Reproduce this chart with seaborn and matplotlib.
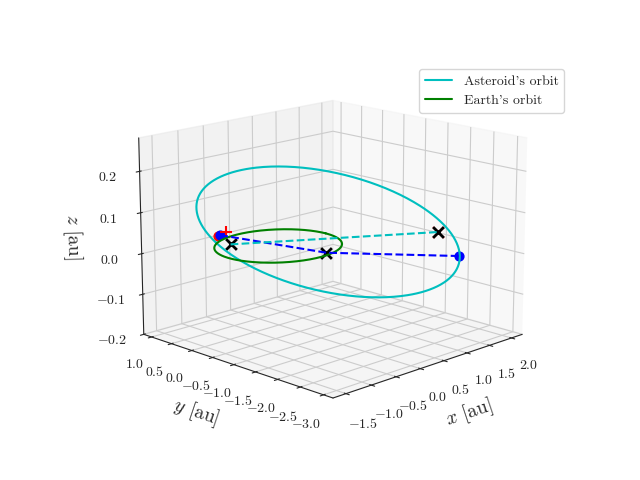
import numpy as np
import matplotlib
matplotlib.use("Agg")
import matplotlib.pyplot as plt
import seaborn as sns

sns.set_style("white")
plt.rcParams["mathtext.fontset"] = "cm"
plt.rcParams["font.family"] = "serif"
plt.rcParams["font.serif"] = ["cmr10", "DejaVu Serif"]
plt.rcParams["axes.formatter.use_mathtext"] = True

# Orbit geometry (au)
earth_radius = 1.0
ast_center = [0.2, -0.9, 0.05]
ast_axis_a = [-0.75, 1.77, -0.05]
ast_axis_b = [-0.74, 0.74, 0.16]

# Marker positions (x, y, z) in au
earth_red = [-0.5, 0.88, 0.015]
earth_pos = [-0.45, 0.88, 0.015]
earth_pos2 = [-0.62, 0.42, 0.01]
ast_pos_a = [-0.35, 0.85, 0.02]
ast_pos_b = [1.4, -2.15, 0.05]
mid_pos = [0.22, -0.88, 0.0]
ast_pos_c = [1.3, -2.7, 0.01]

theta = np.linspace(0, 2*np.pi, 400)
C, A, B = map(np.array, (ast_center, ast_axis_a, ast_axis_b))
ast = C[:, None] + A[:, None]*np.cos(theta) + B[:, None]*np.sin(theta)
earth = np.vstack([earth_radius*np.cos(theta), earth_radius*np.sin(theta), 0*theta])

fig = plt.figure(figsize=(6.4, 4.8), dpi=100)
ax = fig.add_subplot(projection="3d")
ax.computed_zorder = False
ax.view_init(elev=15, azim=-135)
ax.set_box_aspect(None, zoom=1.14)

ax.plot(*ast, color="c", label="Asteroid's orbit")
ax.plot(*earth, color="g", label="Earth's orbit")

ax.plot(*np.array([earth_pos, mid_pos, ast_pos_c]).T, "b--")
ax.plot(*np.array([earth_pos2, ast_pos_b]).T, "c--")
ax.scatter(*earth_red, color="r", s=40, depthshade=False)
ax.scatter(*earth_pos, color="b", s=40, depthshade=False)
ax.scatter(*ast_pos_c, color="b", s=40, depthshade=False)
ax.scatter(*ast_pos_a, color="r", marker="+", s=80, depthshade=False)
ax.scatter(*ast_pos_b, color="r", marker="x", s=60, depthshade=False)
for p in [earth_pos2, mid_pos, ast_pos_b]:
    ax.scatter(*p, color="k", marker="x", s=60, linewidths=2, depthshade=False)

ax.set_xlim(-1.75, 2.25)
ax.set_ylim(-3.2, 1.2)
ax.set_zlim(-0.2, 0.28)
ax.set_xlabel(r"$x$ [au]", fontsize=14)
ax.set_ylabel(r"$y$ [au]", fontsize=14)
ax.set_zlabel(r"$z$ [au]", fontsize=14)
ax.set_xticks([-1.5, -1.0, -0.5, 0.0, 0.5, 1.0, 1.5, 2.0])
ax.set_yticks([1.0, 0.5, 0.0, -0.5, -1.0, -1.5, -2.0, -2.5, -3.0])
ax.set_zticks([-0.2, -0.1, 0.0, 0.1, 0.2])
ax.legend(loc="upper right", bbox_to_anchor=(0.892, 0.87),
          bbox_transform=fig.transFigure)
fig.savefig("out.png", dpi=100)
